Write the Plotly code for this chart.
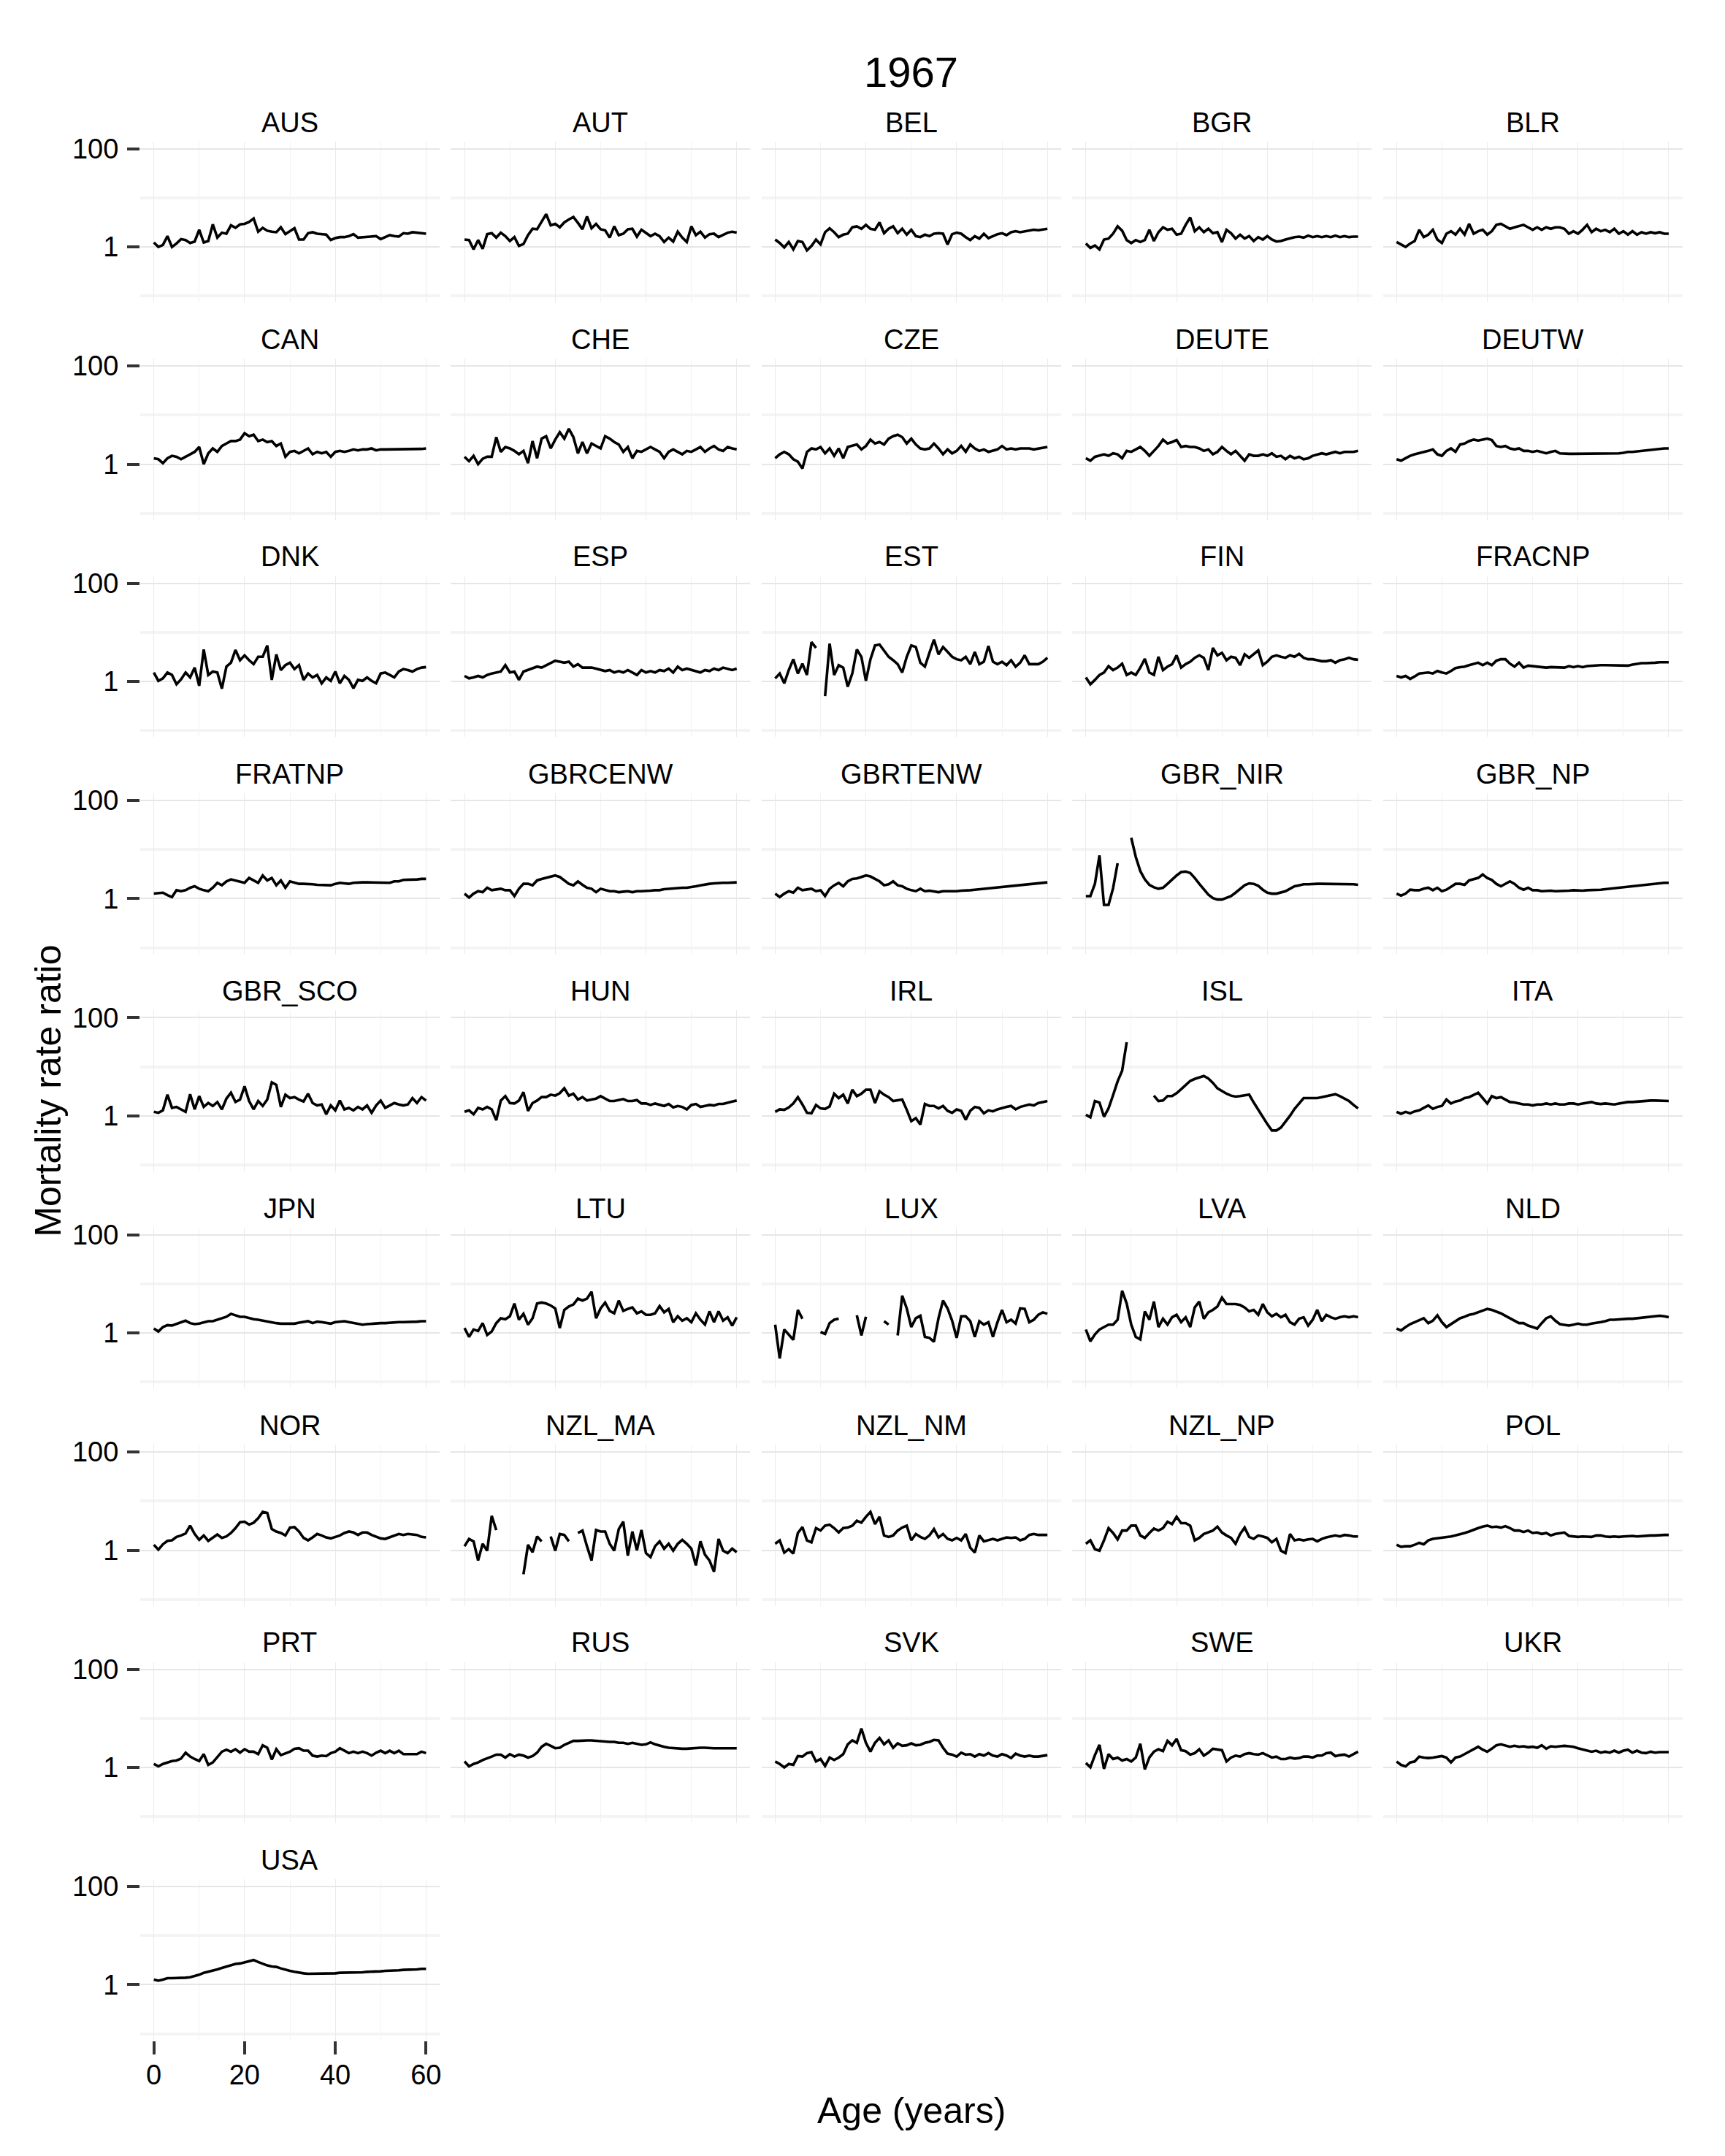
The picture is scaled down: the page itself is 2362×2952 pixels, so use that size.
import plotly.graph_objects as go

# Values are log10(mortality rate ratio), ages 0..60 (None = missing)
AGES = list(range(61))
COUNTRIES = ["AUS","AUT","BEL","BGR","BLR","CAN","CHE","CZE","DEUTE","DEUTW",
             "DNK","ESP","EST","FIN","FRACNP","FRATNP","GBRCENW","GBRTENW","GBR_NIR","GBR_NP",
             "GBR_SCO","HUN","IRL","ISL","ITA","JPN","LTU","LUX","LVA","NLD",
             "NOR","NZL_MA","NZL_NM","NZL_NP","POL","PRT","RUS","SVK","SWE","UKR","USA"]
Y_TICKS = [1, 100]
Y_TICK_TEXT = ["1", "100"]
X_TICKS = [0, 20, 40, 60]
X_TICK_TEXT = ["0", "20", "40", "60"]

AUS = [0.09,0.0,0.04,0.22,0.0,0.07,0.16,0.14,0.08,0.11, 0.35,0.09,0.12,0.46,0.19,0.29,0.27,0.44,0.39,0.46, 0.47,0.51,0.58,0.31,0.39,0.33,0.31,0.30,0.40,0.26, 0.32,0.38,0.15,0.15,0.28,0.30,0.27,0.26,0.25,0.14, 0.18,0.20,0.20,0.22,0.26,0.19,0.20,0.21,0.21,0.22, 0.16,0.20,0.24,0.22,0.21,0.28,0.27,0.30,0.29,0.28, 0.27]
AUT = [0.15,0.14,-0.05,0.14,-0.04,0.26,0.28,0.19,0.29,0.22, 0.12,0.20,0.02,0.06,0.24,0.37,0.36,0.51,0.67,0.44, 0.47,0.40,0.50,0.56,0.61,0.49,0.36,0.62,0.38,0.47, 0.36,0.34,0.19,0.42,0.24,0.27,0.36,0.37,0.21,0.35, 0.29,0.22,0.27,0.22,0.10,0.19,0.11,0.31,0.19,0.10, 0.42,0.24,0.31,0.19,0.26,0.27,0.20,0.25,0.29,0.31, 0.29]
BEL = [0.15,0.08,-0.01,0.10,-0.05,0.12,0.10,-0.07,0.02,0.15, 0.05,0.30,0.38,0.30,0.20,0.25,0.27,0.40,0.42,0.37, 0.45,0.37,0.35,0.50,0.28,0.37,0.42,0.28,0.37,0.25, 0.35,0.22,0.20,0.25,0.22,0.27,0.28,0.27,0.05,0.26, 0.29,0.27,0.20,0.14,0.22,0.17,0.27,0.18,0.22,0.26, 0.28,0.24,0.30,0.32,0.30,0.32,0.33,0.35,0.34,0.36, 0.37]
BGR = [0.07,-0.02,0.03,-0.05,0.15,0.17,0.27,0.42,0.33,0.14, 0.08,0.14,0.10,0.14,0.35,0.12,0.30,0.40,0.35,0.37, 0.25,0.27,0.45,0.60,0.32,0.40,0.30,0.37,0.28,0.30, 0.10,0.35,0.28,0.17,0.25,0.17,0.22,0.12,0.20,0.15, 0.22,0.15,0.11,0.12,0.15,0.18,0.20,0.21,0.19,0.23, 0.20,0.22,0.20,0.22,0.20,0.23,0.20,0.22,0.20,0.21, 0.21]
BLR = [0.10,0.05,0.00,0.07,0.12,0.35,0.20,0.25,0.35,0.15, 0.08,0.27,0.32,0.25,0.37,0.25,0.47,0.27,0.32,0.35, 0.25,0.32,0.45,0.47,0.42,0.37,0.40,0.42,0.45,0.40, 0.35,0.40,0.35,0.40,0.37,0.40,0.40,0.37,0.27,0.32, 0.27,0.35,0.45,0.30,0.37,0.32,0.35,0.30,0.37,0.27, 0.32,0.25,0.32,0.25,0.30,0.27,0.30,0.28,0.30,0.27, 0.27]
CAN = [0.12,0.10,0.02,0.12,0.17,0.15,0.10,0.15,0.20,0.25, 0.35,0.00,0.22,0.32,0.25,0.37,0.42,0.47,0.47,0.50, 0.63,0.57,0.60,0.47,0.50,0.45,0.47,0.37,0.42,0.15, 0.25,0.27,0.22,0.27,0.32,0.20,0.25,0.22,0.25,0.15, 0.25,0.27,0.25,0.27,0.30,0.28,0.30,0.30,0.32,0.28, 0.30,0.30,0.30,0.30,0.30,0.30,0.30,0.30,0.31,0.31, 0.32]
CHE = [0.15,0.06,0.17,0.00,0.11,0.15,0.15,0.55,0.25,0.35, 0.32,0.27,0.20,0.27,0.02,0.47,0.12,0.52,0.57,0.32, 0.50,0.65,0.52,0.72,0.55,0.22,0.45,0.22,0.42,0.37, 0.32,0.57,0.52,0.45,0.40,0.25,0.35,0.12,0.27,0.25, 0.30,0.35,0.30,0.25,0.12,0.25,0.30,0.25,0.20,0.27, 0.25,0.30,0.35,0.25,0.32,0.37,0.30,0.27,0.35,0.32, 0.30]
CZE = [0.12,0.20,0.25,0.20,0.10,0.05,-0.09,0.25,0.32,0.30, 0.35,0.22,0.32,0.17,0.32,0.12,0.35,0.37,0.40,0.30, 0.37,0.50,0.42,0.45,0.40,0.52,0.57,0.60,0.55,0.42, 0.52,0.40,0.32,0.30,0.32,0.42,0.32,0.20,0.30,0.22, 0.27,0.37,0.25,0.40,0.32,0.27,0.30,0.25,0.27,0.30, 0.37,0.30,0.32,0.30,0.32,0.32,0.32,0.30,0.32,0.34, 0.35]
DEUTE = [0.12,0.07,0.15,0.17,0.20,0.17,0.22,0.20,0.12,0.27, 0.25,0.30,0.35,0.27,0.17,0.27,0.37,0.50,0.42,0.45, 0.49,0.35,0.37,0.35,0.35,0.32,0.27,0.30,0.20,0.25, 0.35,0.27,0.20,0.27,0.17,0.07,0.20,0.17,0.17,0.20, 0.17,0.22,0.15,0.17,0.10,0.17,0.12,0.15,0.10,0.12, 0.17,0.20,0.22,0.20,0.22,0.25,0.22,0.25,0.25,0.25, 0.27]
DEUTW = [0.10,0.07,0.12,0.17,0.20,0.22,0.25,0.27,0.30,0.20, 0.17,0.27,0.32,0.25,0.40,0.42,0.47,0.50,0.48,0.50, 0.52,0.49,0.37,0.35,0.37,0.32,0.30,0.32,0.27,0.27, 0.25,0.27,0.25,0.22,0.25,0.27,0.22,0.21,0.21,0.21, 0.21,0.21,0.21,0.21,0.21,0.21,0.21,0.21,0.22,0.22, 0.23,0.25,0.25,0.26,0.27,0.28,0.30,0.31,0.31,0.32, 0.32]
DNK = [0.18,0.01,0.06,0.18,0.13,-0.06,0.04,0.18,0.08,0.28, -0.09,0.65,0.13,0.20,0.18,-0.15,0.30,0.38,0.64,0.43, 0.53,0.43,0.35,0.50,0.50,0.73,0.03,0.55,0.23,0.33, 0.38,0.25,0.33,0.03,0.16,0.08,0.13,-0.04,0.08,0.01, 0.20,-0.04,0.11,0.03,-0.14,0.03,0.01,0.08,0.01,-0.04, 0.16,0.18,0.13,0.08,0.20,0.25,0.23,0.20,0.25,0.28, 0.29]
ESP = [0.11,0.06,0.08,0.11,0.08,0.13,0.16,0.18,0.20,0.33, 0.18,0.20,0.03,0.20,0.23,0.26,0.30,0.28,0.33,0.38, 0.42,0.40,0.38,0.40,0.30,0.35,0.28,0.28,0.28,0.26, 0.23,0.21,0.23,0.18,0.21,0.18,0.23,0.18,0.13,0.23, 0.18,0.21,0.18,0.23,0.21,0.26,0.18,0.30,0.23,0.26, 0.23,0.21,0.18,0.23,0.21,0.26,0.23,0.28,0.26,0.23, 0.26]
EST = [0.06,0.16,-0.04,0.23,0.45,0.16,0.36,0.13,0.80,0.68, None,-0.30,0.77,0.13,0.33,0.28,-0.11,0.16,0.65,0.50, 0.01,0.45,0.73,0.75,0.63,0.50,0.43,0.35,0.18,0.50, 0.73,0.70,0.38,0.30,0.58,0.85,0.55,0.70,0.60,0.50, 0.45,0.43,0.50,0.35,0.60,0.35,0.40,0.72,0.40,0.35, 0.40,0.33,0.43,0.30,0.38,0.53,0.35,0.35,0.35,0.40, 0.48]
FIN = [0.08,-0.06,0.03,0.13,0.18,0.31,0.23,0.28,0.36,0.13, 0.18,0.13,0.28,0.46,0.18,0.13,0.50,0.23,0.30,0.35, 0.53,0.28,0.35,0.40,0.48,0.53,0.48,0.23,0.68,0.53, 0.58,0.43,0.50,0.48,0.33,0.55,0.48,0.55,0.63,0.33, 0.40,0.50,0.53,0.50,0.48,0.53,0.50,0.56,0.48,0.45, 0.45,0.43,0.41,0.41,0.43,0.38,0.43,0.45,0.48,0.45, 0.44]
FRACNP = [0.11,0.08,0.11,0.05,0.10,0.16,0.17,0.18,0.16,0.21, 0.18,0.16,0.21,0.27,0.29,0.30,0.33,0.36,0.38,0.33, 0.38,0.33,0.42,0.45,0.45,0.36,0.30,0.38,0.28,0.32, 0.31,0.30,0.28,0.28,0.29,0.29,0.29,0.28,0.31,0.29, 0.31,0.29,0.31,0.32,0.33,0.33,0.33,0.33,0.32,0.32, 0.32,0.32,0.34,0.36,0.37,0.37,0.37,0.38,0.39,0.39, 0.39]
FRATNP = [0.10,0.11,0.12,0.07,0.03,0.17,0.15,0.17,0.22,0.25, 0.20,0.17,0.15,0.22,0.32,0.27,0.35,0.39,0.37,0.35, 0.32,0.42,0.37,0.32,0.47,0.37,0.42,0.27,0.37,0.22, 0.35,0.32,0.30,0.30,0.30,0.29,0.28,0.28,0.27,0.27, 0.30,0.32,0.31,0.30,0.32,0.33,0.33,0.33,0.33,0.32, 0.32,0.32,0.32,0.35,0.35,0.38,0.38,0.39,0.39,0.40, 0.40]
GBRCENW = [0.10,0.02,0.10,0.15,0.13,0.22,0.17,0.19,0.20,0.17, 0.17,0.05,0.20,0.30,0.30,0.27,0.37,0.40,0.42,0.45, 0.47,0.44,0.37,0.30,0.27,0.35,0.28,0.22,0.20,0.13, 0.20,0.17,0.15,0.15,0.13,0.14,0.15,0.13,0.15,0.15, 0.15,0.16,0.17,0.17,0.19,0.20,0.20,0.21,0.22,0.22, 0.23,0.25,0.27,0.29,0.30,0.31,0.32,0.32,0.32,0.32, 0.33]
GBRTENW = [0.10,0.03,0.10,0.15,0.12,0.22,0.17,0.19,0.20,0.15, 0.17,0.05,0.20,0.27,0.32,0.25,0.35,0.40,0.41,0.44, 0.47,0.45,0.40,0.35,0.27,0.29,0.35,0.27,0.25,0.20, 0.17,0.15,0.20,0.15,0.16,0.15,0.13,0.15,0.15,0.14, 0.15,0.16,0.16,0.17,0.18,0.19,0.20,0.20,0.21,0.22, 0.23,0.24,0.25,0.27,0.28,0.29,0.30,0.31,0.32,0.32, 0.33]
GBR_NIR = [0.05,0.05,0.30,0.88,-0.13,-0.13,0.21,0.72,None,None, 1.24,0.85,0.56,0.39,0.28,0.23,0.20,0.22,0.30,0.39, 0.47,0.54,0.55,0.52,0.42,0.30,0.18,0.08,0.01,-0.02, -0.02,0.01,0.05,0.12,0.20,0.27,0.31,0.30,0.26,0.18, 0.12,0.10,0.10,0.12,0.15,0.20,0.25,0.27,0.29,0.29, 0.30,0.30,0.30,0.30,0.30,0.30,0.30,0.30,0.29,0.29, 0.28]
GBR_NP = [0.10,0.06,0.10,0.18,0.17,0.17,0.20,0.22,0.17,0.22, 0.15,0.18,0.24,0.30,0.30,0.28,0.37,0.40,0.42,0.49, 0.42,0.38,0.30,0.25,0.30,0.35,0.30,0.22,0.18,0.22, 0.17,0.17,0.15,0.16,0.16,0.15,0.15,0.16,0.16,0.17, 0.16,0.16,0.17,0.17,0.17,0.18,0.19,0.20,0.22,0.23, 0.23,0.24,0.25,0.26,0.27,0.29,0.30,0.31,0.31,0.32, 0.32]
GBR_SCO = [0.08,0.06,0.11,0.43,0.16,0.18,0.13,0.08,0.44,0.13, 0.40,0.18,0.26,0.20,0.28,0.13,0.35,0.47,0.28,0.33, 0.60,0.30,0.13,0.30,0.20,0.33,0.68,0.63,0.18,0.43, 0.36,0.38,0.33,0.29,0.45,0.26,0.21,0.23,0.03,0.21, 0.11,0.31,0.13,0.16,0.11,0.18,0.13,0.21,0.06,0.21, 0.31,0.16,0.21,0.26,0.23,0.21,0.23,0.36,0.26,0.38, 0.31]
HUN = [0.08,0.11,0.03,0.16,0.13,0.18,0.13,-0.09,0.31,0.40, 0.26,0.25,0.31,0.48,0.10,0.26,0.31,0.38,0.38,0.43, 0.41,0.46,0.56,0.41,0.45,0.33,0.38,0.31,0.33,0.35, 0.40,0.35,0.30,0.30,0.32,0.34,0.30,0.30,0.32,0.25, 0.25,0.22,0.25,0.23,0.20,0.24,0.17,0.20,0.18,0.13, 0.22,0.24,0.18,0.20,0.22,0.21,0.24,0.24,0.27,0.29, 0.31]
IRL = [0.08,0.13,0.12,0.17,0.25,0.38,0.23,0.06,0.05,0.22, 0.15,0.14,0.19,0.45,0.36,0.43,0.25,0.53,0.40,0.45, 0.53,0.53,0.26,0.50,0.43,0.38,0.30,0.31,0.33,0.12, -0.11,-0.05,-0.18,0.24,0.20,0.20,0.15,0.20,0.10,0.06, 0.13,0.10,-0.08,0.10,0.18,0.16,0.05,0.11,0.09,0.13, 0.16,0.18,0.20,0.13,0.18,0.20,0.23,0.21,0.26,0.28, 0.30]
ISL = [0.02,-0.03,0.30,0.27,-0.02,0.15,0.42,0.70,0.92,1.50, None,None,None,None,None,0.41,0.30,0.31,0.40,0.40, 0.46,0.54,0.62,0.71,0.75,0.78,0.81,0.76,0.67,0.56, 0.50,0.45,0.41,0.39,0.40,0.42,0.43,0.27,0.12,-0.03, -0.17,-0.30,-0.30,-0.24,-0.13,0.00,0.14,0.25,0.36,0.36, 0.36,0.36,0.38,0.40,0.42,0.44,0.40,0.35,0.30,0.22, 0.15]
ITA = [0.08,0.04,0.08,0.05,0.09,0.11,0.16,0.21,0.14,0.18, 0.20,0.33,0.25,0.29,0.31,0.36,0.38,0.42,0.47,0.36, 0.25,0.40,0.36,0.38,0.33,0.28,0.27,0.25,0.23,0.23, 0.21,0.23,0.23,0.25,0.23,0.25,0.23,0.23,0.25,0.25, 0.23,0.25,0.27,0.28,0.25,0.24,0.25,0.24,0.23,0.25, 0.27,0.28,0.28,0.29,0.30,0.30,0.31,0.31,0.31,0.31, 0.30]
JPN = [0.09,0.03,0.12,0.16,0.15,0.18,0.22,0.25,0.20,0.18, 0.19,0.22,0.24,0.24,0.27,0.30,0.33,0.39,0.36,0.33, 0.33,0.30,0.28,0.27,0.25,0.24,0.22,0.20,0.19,0.19, 0.18,0.19,0.21,0.22,0.24,0.20,0.23,0.22,0.20,0.19, 0.22,0.23,0.24,0.22,0.20,0.19,0.17,0.18,0.19,0.19, 0.20,0.20,0.21,0.21,0.22,0.22,0.22,0.23,0.23,0.24, 0.24]
LTU = [0.10,-0.08,0.07,0.04,0.20,-0.04,0.03,0.20,0.30,0.28, 0.34,0.60,0.27,0.39,0.17,0.30,0.60,0.62,0.60,0.56, 0.50,0.10,0.47,0.54,0.58,0.70,0.66,0.70,0.84,0.30, 0.50,0.62,0.45,0.40,0.66,0.45,0.49,0.52,0.40,0.44, 0.37,0.37,0.40,0.55,0.42,0.49,0.22,0.34,0.25,0.30, 0.22,0.40,0.27,0.17,0.44,0.22,0.44,0.25,0.32,0.15, 0.32]
LUX = [0.17,-0.52,0.07,-0.03,-0.14,0.47,0.29,None,None,None, 0.02,-0.02,0.20,0.27,0.29,None,None,None,0.36,-0.05, 0.33,None,None,None,0.24,0.17,None,-0.05,0.76,0.50, 0.12,0.30,0.35,-0.08,-0.10,-0.18,0.30,0.66,0.50,0.25, -0.10,0.34,0.34,0.24,-0.08,0.24,0.17,0.22,-0.08,0.22, 0.47,0.22,0.27,0.19,0.50,0.49,0.22,0.27,0.37,0.42, 0.39]
LVA = [0.07,-0.17,-0.03,0.07,0.12,0.17,0.17,0.27,0.86,0.60, 0.17,-0.08,-0.13,0.44,0.27,0.64,0.12,0.29,0.17,0.32, 0.37,0.22,0.32,0.12,0.52,0.64,0.29,0.42,0.47,0.54, 0.72,0.59,0.59,0.59,0.57,0.52,0.44,0.47,0.37,0.59, 0.42,0.34,0.39,0.32,0.37,0.22,0.17,0.29,0.32,0.15, 0.27,0.47,0.24,0.37,0.32,0.29,0.32,0.34,0.32,0.34, 0.32]
NLD = [0.09,0.05,0.12,0.18,0.22,0.26,0.30,0.20,0.25,0.36, 0.22,0.12,0.18,0.25,0.30,0.33,0.37,0.39,0.42,0.46, 0.49,0.47,0.44,0.40,0.35,0.30,0.25,0.20,0.20,0.15, 0.12,0.09,0.20,0.30,0.34,0.25,0.18,0.17,0.15,0.17, 0.19,0.17,0.17,0.19,0.20,0.22,0.24,0.27,0.27,0.28, 0.28,0.29,0.29,0.30,0.31,0.32,0.33,0.34,0.35,0.34, 0.32]
NOR = [0.11,0.01,0.12,0.19,0.20,0.27,0.30,0.34,0.50,0.33, 0.21,0.30,0.19,0.26,0.32,0.25,0.28,0.35,0.45,0.57, 0.58,0.52,0.56,0.65,0.78,0.76,0.43,0.38,0.35,0.30, 0.46,0.47,0.38,0.25,0.20,0.26,0.33,0.30,0.26,0.24, 0.27,0.30,0.35,0.38,0.36,0.31,0.36,0.36,0.31,0.27, 0.24,0.23,0.26,0.30,0.33,0.31,0.33,0.32,0.31,0.27, 0.26]
NZL_MA = [0.08,0.23,0.18,-0.21,0.13,-0.01,0.70,0.41,None,None, None,None,None,-0.49,0.11,-0.04,0.28,0.18,None,0.28, -0.01,0.33,0.31,0.18,None,0.35,0.40,0.08,-0.21,0.41, 0.38,0.38,0.13,-0.01,0.43,0.58,-0.11,0.38,0.00,0.41, -0.06,-0.14,0.08,0.18,0.03,0.13,-0.01,0.13,0.21,0.13, 0.03,-0.31,0.18,-0.09,-0.21,-0.44,0.23,-0.01,-0.06,0.03, -0.04]
NZL_NM = [0.13,0.20,-0.05,0.02,-0.07,0.35,0.47,0.20,0.16,0.45, 0.40,0.50,0.52,0.45,0.36,0.45,0.46,0.50,0.60,0.56, 0.68,0.78,0.53,0.68,0.30,0.27,0.30,0.40,0.46,0.50, 0.20,0.33,0.27,0.23,0.30,0.43,0.26,0.33,0.23,0.20, 0.25,0.20,0.33,0.05,-0.05,0.30,0.18,0.20,0.23,0.20, 0.23,0.26,0.25,0.26,0.20,0.23,0.31,0.33,0.31,0.31, 0.31]
NZL_NP = [0.13,0.20,0.02,-0.01,0.20,0.45,0.35,0.22,0.40,0.40, 0.50,0.50,0.30,0.25,0.35,0.44,0.40,0.45,0.58,0.53, 0.68,0.55,0.55,0.50,0.20,0.25,0.33,0.36,0.40,0.48, 0.36,0.30,0.25,0.13,0.33,0.46,0.27,0.23,0.30,0.28, 0.25,0.16,0.23,-0.01,-0.06,0.33,0.20,0.22,0.20,0.22, 0.23,0.18,0.23,0.26,0.28,0.30,0.28,0.31,0.30,0.28, 0.28]
POL = [0.11,0.07,0.08,0.08,0.11,0.15,0.12,0.20,0.23,0.24, 0.25,0.26,0.28,0.30,0.32,0.35,0.38,0.42,0.45,0.48, 0.50,0.47,0.48,0.46,0.49,0.45,0.40,0.40,0.37,0.40, 0.35,0.36,0.33,0.35,0.30,0.33,0.34,0.36,0.29,0.28, 0.27,0.28,0.27,0.27,0.30,0.30,0.28,0.27,0.28,0.27, 0.28,0.29,0.29,0.28,0.29,0.30,0.30,0.30,0.31,0.31, 0.31]
PRT = [0.07,0.02,0.07,0.10,0.13,0.14,0.18,0.30,0.22,0.17, 0.13,0.27,0.05,0.10,0.22,0.32,0.36,0.32,0.37,0.30, 0.37,0.32,0.32,0.27,0.45,0.40,0.16,0.37,0.25,0.29, 0.32,0.38,0.39,0.34,0.34,0.24,0.22,0.24,0.23,0.29, 0.32,0.39,0.34,0.29,0.32,0.29,0.32,0.29,0.24,0.30, 0.34,0.29,0.34,0.29,0.34,0.27,0.27,0.27,0.27,0.32, 0.29]
RUS = [0.12,0.02,0.07,0.10,0.15,0.18,0.22,0.26,0.26,0.20, 0.27,0.22,0.26,0.24,0.20,0.23,0.30,0.42,0.48,0.44, 0.39,0.40,0.46,0.50,0.54,0.54,0.55,0.55,0.55,0.54, 0.53,0.53,0.52,0.52,0.50,0.50,0.48,0.50,0.48,0.46, 0.47,0.51,0.47,0.44,0.42,0.40,0.39,0.38,0.38,0.38, 0.39,0.39,0.40,0.40,0.39,0.39,0.39,0.39,0.39,0.39, 0.39]
SVK = [0.12,0.07,0.00,0.07,0.05,0.23,0.22,0.29,0.31,0.12, 0.17,0.03,0.20,0.15,0.20,0.27,0.47,0.55,0.50,0.79, 0.50,0.32,0.50,0.60,0.47,0.55,0.40,0.49,0.44,0.45, 0.49,0.45,0.46,0.50,0.52,0.56,0.55,0.40,0.28,0.26, 0.22,0.30,0.26,0.27,0.22,0.27,0.24,0.29,0.24,0.22, 0.27,0.24,0.19,0.28,0.24,0.22,0.24,0.22,0.22,0.23, 0.25]
SWE = [0.09,0.00,0.25,0.46,-0.03,0.27,0.17,0.20,0.14,0.17, 0.12,0.20,0.48,-0.04,0.20,0.32,0.37,0.33,0.54,0.45, 0.58,0.35,0.33,0.26,0.29,0.37,0.24,0.30,0.38,0.37, 0.35,0.12,0.20,0.24,0.22,0.27,0.29,0.27,0.26,0.29, 0.24,0.20,0.22,0.17,0.17,0.20,0.18,0.19,0.22,0.22, 0.20,0.24,0.24,0.29,0.30,0.23,0.25,0.26,0.22,0.27, 0.32]
UKR = [0.12,0.05,0.02,0.10,0.12,0.22,0.20,0.19,0.20,0.21, 0.23,0.20,0.10,0.20,0.22,0.27,0.32,0.38,0.42,0.36, 0.32,0.38,0.45,0.47,0.44,0.42,0.44,0.42,0.43,0.41, 0.42,0.40,0.45,0.38,0.43,0.42,0.43,0.44,0.43,0.42, 0.39,0.37,0.34,0.32,0.34,0.30,0.32,0.30,0.34,0.30, 0.34,0.36,0.30,0.34,0.30,0.29,0.32,0.30,0.31,0.31, 0.31]
USA = [0.10,0.08,0.10,0.13,0.13,0.13,0.14,0.14,0.15,0.17, 0.20,0.24,0.26,0.28,0.31,0.34,0.37,0.40,0.42,0.43, 0.45,0.47,0.50,0.46,0.42,0.39,0.37,0.36,0.33,0.30, 0.28,0.26,0.24,0.23,0.22,0.22,0.22,0.22,0.23,0.23, 0.23,0.24,0.24,0.24,0.25,0.25,0.25,0.26,0.26,0.26, 0.27,0.28,0.28,0.29,0.29,0.30,0.30,0.31,0.31,0.32, 0.32]

SERIES = [AUS, AUT, BEL, BGR, BLR, CAN, CHE, CZE, DEUTE, DEUTW,
          DNK, ESP, EST, FIN, FRACNP, FRATNP, GBRCENW, GBRTENW, GBR_NIR, GBR_NP,
          GBR_SCO, HUN, IRL, ISL, ITA, JPN, LTU, LUX, LVA, NLD,
          NOR, NZL_MA, NZL_NM, NZL_NP, POL, PRT, RUS, SVK, SWE, UKR, USA]

W, H = 2362, 2952
NCOL = 5
FONT = "Liberation Sans, Arial, sans-serif"
PANEL_W = 410
COL_STEP = 425.4
LEFT0 = 192
ROW_STEP = 297.4
Y100_0 = 203.7
YLOG_RANGE = [-1.134, 2.149]
XRANGE = [-3, 63]

fig = go.Figure()
annotations = []
layout = {}
n = len(COUNTRIES)
last_row = (n - 1) // NCOL

for i, (name, vals) in enumerate(zip(COUNTRIES, SERIES)):
    r, c = divmod(i, NCOL)
    k = i + 1
    xa = "x" if k == 1 else f"x{k}"
    ya = "y" if k == 1 else f"y{k}"
    left = LEFT0 + c * COL_STEP
    right = left + PANEL_W
    y100 = Y100_0 + r * ROW_STEP
    top = y100 - 10.0
    bottom = y100 + 210.6

    yvals = [None if v is None else 10 ** v for v in vals]
    fig.add_trace(go.Scatter(
        x=AGES[:len(yvals)], y=yvals, mode="lines",
        line=dict(color="black", width=3.6),
        xaxis=xa, yaxis=ya, showlegend=False, hoverinfo="skip",
        connectgaps=False,
    ))

    show_y = (c == 0)
    show_x = (r == last_row)
    layout["xaxis" if k == 1 else f"xaxis{k}"] = dict(
        domain=[left / W, right / W], range=XRANGE, anchor=ya, automargin=False,
        tickmode="array", tickvals=X_TICKS, ticktext=X_TICK_TEXT,
        showgrid=True, gridcolor="#ebebeb", gridwidth=1.4,
        minor=dict(tickmode="array", tickvals=[10, 30, 50], showgrid=True,
                   gridcolor="#f3f3f3", gridwidth=1.4, ticks=""),
        zeroline=False, showline=False,
        ticks="outside" if show_x else "", ticklen=18, tickwidth=3.5, tickcolor="#333333",
        showticklabels=show_x, tickfont=dict(family=FONT, size=38, color="#000000"),
        ticklabelstandoff=0,
    )
    layout["yaxis" if k == 1 else f"yaxis{k}"] = dict(
        domain=[1 - bottom / H, 1 - top / H], type="log", range=YLOG_RANGE, anchor=xa,
        automargin=False,
        tickmode="array", tickvals=Y_TICKS, ticktext=Y_TICK_TEXT,
        showgrid=True, gridcolor="#e6e6e6", gridwidth=1.6,
        minor=dict(tickmode="array", tickvals=[0.1, 10], showgrid=True,
                   gridcolor="#f4f4f4", gridwidth=3.5, ticks=""),
        zeroline=False, showline=False,
        ticks="outside" if show_y else "", ticklen=17, tickwidth=3.5, tickcolor="#333333",
        showticklabels=show_y, tickfont=dict(family=FONT, size=38, color="#000000"),
        ticklabelstandoff=4,
    )
    annotations.append(dict(
        text=name, x=(left + right) / 2 / W, y=1 - (top - 26) / H,
        xref="paper", yref="paper", xanchor="center", yanchor="middle",
        showarrow=False, font=dict(family=FONT, size=38, color="#000000"),
    ))

plot_left = LEFT0
plot_right = LEFT0 + (NCOL - 1) * COL_STEP + PANEL_W
plot_top = Y100_0 - 10.0
plot_bottom = Y100_0 + last_row * ROW_STEP + 210.6

annotations.append(dict(text="1967", x=(plot_left + plot_right) / 2 / W, y=1 - 98 / H,
                        xref="paper", yref="paper", xanchor="center", yanchor="middle",
                        showarrow=False, font=dict(family=FONT, size=58, color="#000000")))
annotations.append(dict(text="Age (years)", x=(plot_left + plot_right) / 2 / W, y=1 - 2890 / H,
                        xref="paper", yref="paper", xanchor="center", yanchor="middle",
                        showarrow=False, font=dict(family=FONT, size=50, color="#000000")))
annotations.append(dict(text="Mortality rate ratio", x=66 / W, y=1 - (plot_top + plot_bottom) / 2 / H,
                        xref="paper", yref="paper", xanchor="center", yanchor="middle",
                        textangle=-90,
                        showarrow=False, font=dict(family=FONT, size=50, color="#000000")))

fig.update_layout(
    width=W, height=H, margin=dict(l=0, r=0, t=0, b=0, pad=0, autoexpand=False),
    paper_bgcolor="white", plot_bgcolor="white",
    annotations=annotations, font=dict(family=FONT),
    **layout,
)

# pull x tick labels slightly closer to the ticks if the library allows it
try:
    fig.update_layout(xaxis41=dict(ticklabelstandoff=-4))
except ValueError:
    pass

fig.write_html("out.html")
